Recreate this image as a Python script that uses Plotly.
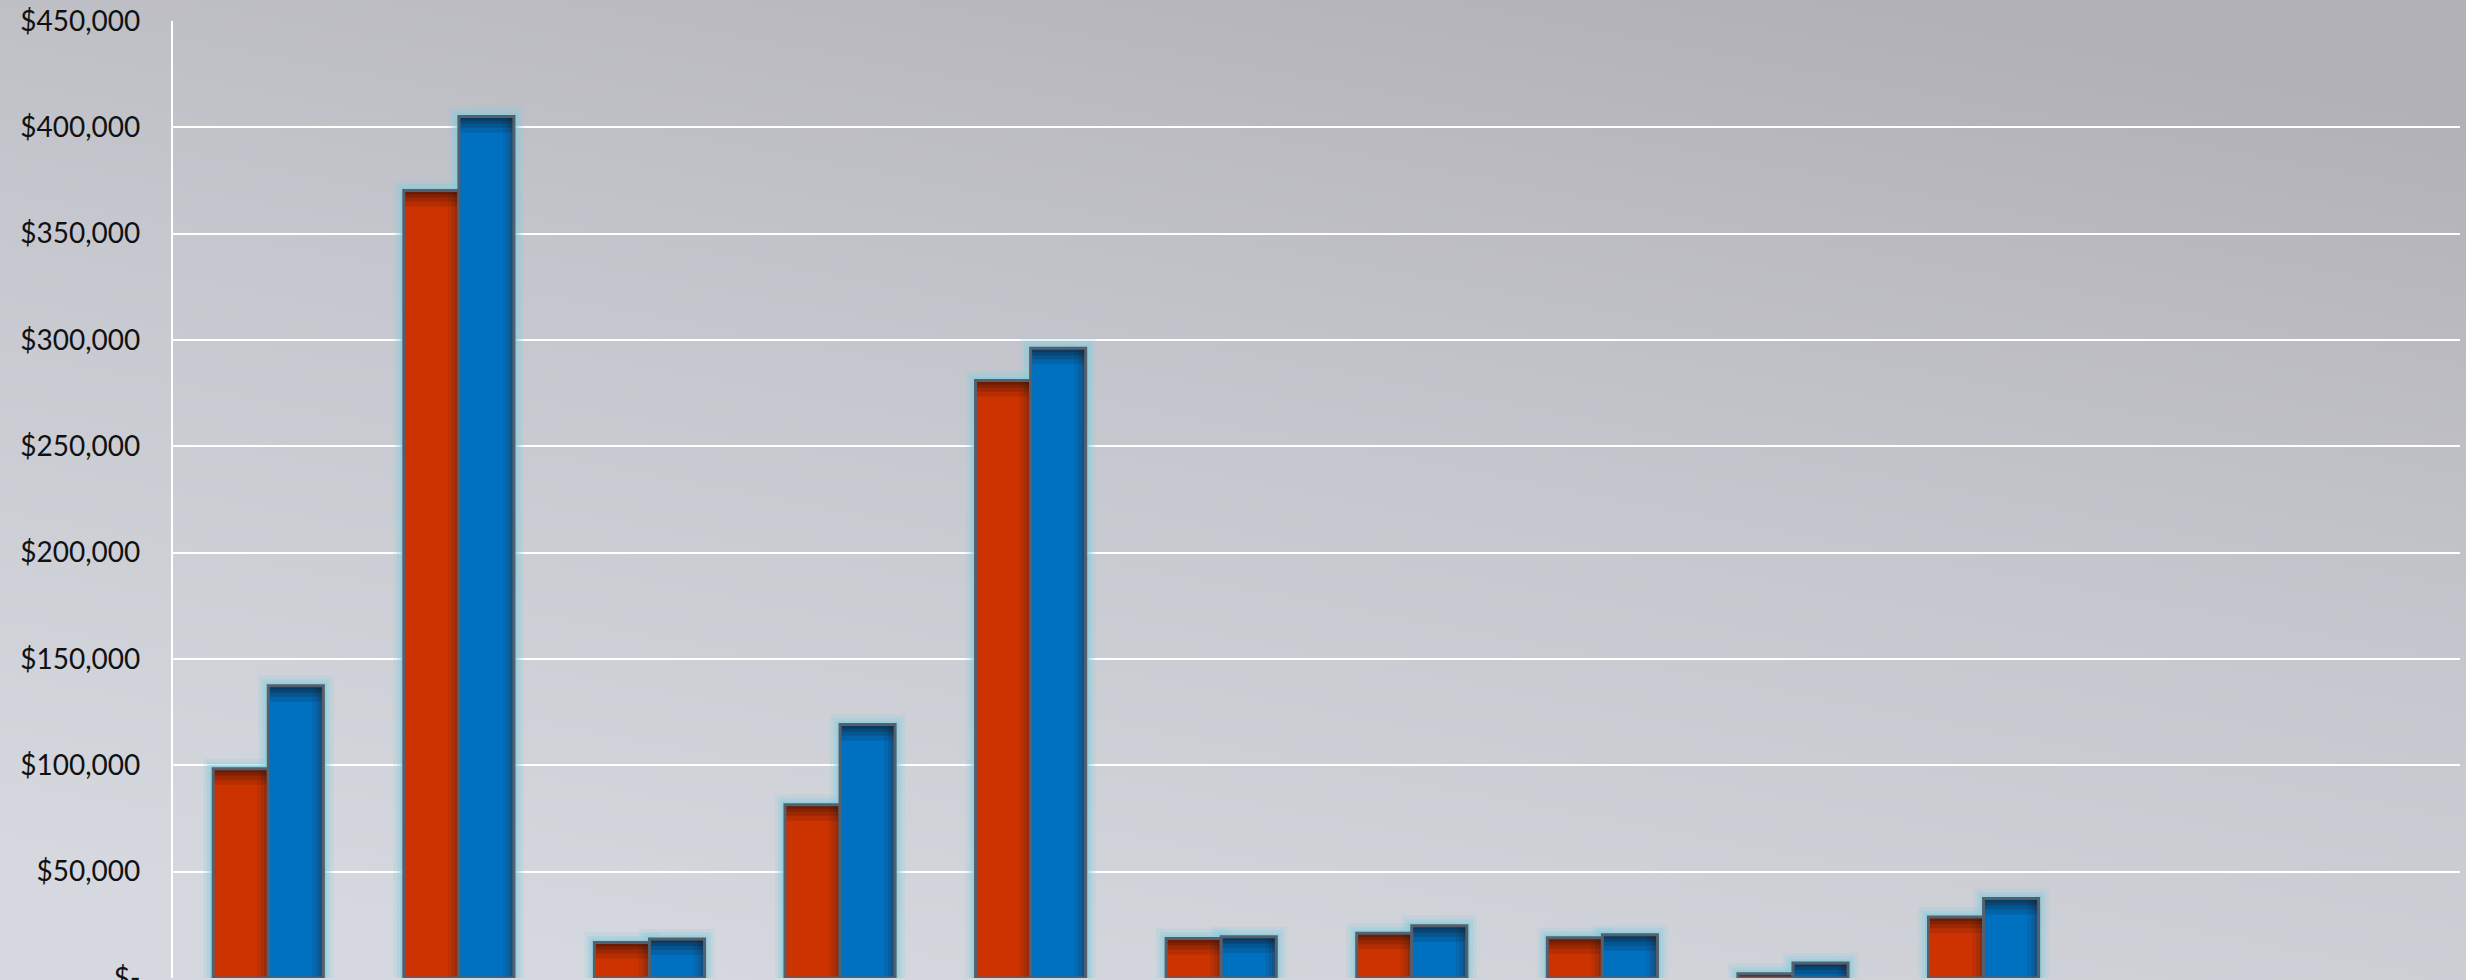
import base64
import plotly.graph_objects as go

months = ["Jan", "Feb", "Mar", "Apr", "May", "Jun", "Jul", "Aug", "Sep", "Oct", "Nov", "Dec"]
series_a = [98400, 370300, 16700, 81500, 281000, 18600, 21100, 18900, 2000, 28700, None, None]
series_b = [137400, 405100, 18300, 119200, 296100, 19400, 24600, 20300, 7000, 37400, None, None]
tick_vals = [0, 50000, 100000, 150000, 200000, 250000, 300000, 350000, 400000, 450000]
tick_text = ["$-", "$50,000", "$100,000", "$150,000", "$200,000", "$250,000",
             "$300,000", "$350,000", "$400,000", "$450,000"]

W, H = 2466, 980
ML, MR, MT, MB = 173, 6, 21, 2
PW, PH = W - ML - MR, H - MT - MB
YMAX = 450000
UNIT = YMAX / PH  # data units per pixel

svg = f'''<svg xmlns="http://www.w3.org/2000/svg" width="{W}" height="{H}" preserveAspectRatio="none" viewBox="0 0 {W} {H}">
<defs><linearGradient id="g" x1="0.26" y1="1" x2="0.74" y2="0">
<stop offset="0" stop-color="#d5d8de"/><stop offset="0.55" stop-color="#c6c7ce"/><stop offset="1" stop-color="#b2b1b7"/>
</linearGradient></defs><rect width="{W}" height="{H}" fill="url(#g)"/></svg>'''
bg_uri = "data:image/svg+xml;base64," + base64.b64encode(svg.encode()).decode()

BW = 0.289
fig = go.Figure()


def shade_top(vals, px):
    h = [None if v is None else min(v, px * UNIT) for v in vals]
    b = [None if v is None else max(0, v - px * UNIT) for v in vals]
    return h, b


series = ((series_a, -BW, "#cc3300", "Series 1"), (series_b, 0.0, "#0070c0", "Series 2"))

# outer glow
for vals, off, _, _ in series:
    for lw, a in ((20, 0.18), (13, 0.28), (7, 0.5)):
        fig.add_trace(go.Bar(x=months, y=vals, offset=off, width=BW,
                             marker=dict(color="rgba(0,0,0,0)",
                                         line=dict(color=f"rgba(128,206,224,{a})", width=lw)),
                             hoverinfo="skip", showlegend=False))

for vals, off, col, name in series:
    fig.add_trace(go.Bar(x=months, y=vals, name=name, offset=off, width=BW,
                         marker=dict(color=col, line=dict(width=0))))
    # inner shadow on right edge
    for frac, a in ((0.2, 0.1), (0.13, 0.14), (0.07, 0.2)):
        fig.add_trace(go.Bar(x=months, y=vals, offset=off + BW * (1 - frac), width=BW * frac,
                             marker=dict(color=f"rgba(50,35,35,{a})", line=dict(width=0)),
                             hoverinfo="skip", showlegend=False))
    # inner shadow on top edge
    for px, alpha in ((16, 0.12), (11, 0.15), (7, 0.18), (4, 0.2)):
        h, b = shade_top(vals, px)
        fig.add_trace(go.Bar(x=months, y=h, base=b, offset=off, width=BW,
                             marker=dict(color=f"rgba(20,10,10,{alpha})", line=dict(width=0)),
                             hoverinfo="skip", showlegend=False))
    # border
    fig.add_trace(go.Bar(x=months, y=vals, offset=off, width=BW,
                         marker=dict(color="rgba(0,0,0,0)", line=dict(color="#56606d", width=3)),
                         hoverinfo="skip", showlegend=False))

fig.update_layout(
    width=W, height=H,
    margin=dict(l=ML, r=MR, t=MT, b=MB, pad=0, autoexpand=False),
    barmode="overlay",
    showlegend=False,
    paper_bgcolor="#c8cacf",
    plot_bgcolor="rgba(0,0,0,0)",
    font=dict(family="Lato, Calibri, sans-serif", size=28, color="#111111"),
    images=[dict(source=bg_uri, xref="paper", yref="paper",
                 x=-ML / PW, y=1 + MT / PH, sizex=W / PW, sizey=H / PH,
                 xanchor="left", yanchor="top", sizing="stretch", layer="below")],
    xaxis=dict(type="category", categoryorder="array", categoryarray=months,
               range=[-0.5, 11.5], showticklabels=False, showgrid=False,
               zeroline=False, showline=False, ticks="", automargin=False),
    yaxis=dict(range=[0, YMAX], tickvals=tick_vals, ticktext=tick_text,
               showgrid=True, gridcolor="#ffffff", gridwidth=2.2,
               showline=True, linecolor="#ffffff", linewidth=2.2,
               zeroline=False, ticks="", ticklabelstandoff=25,
               ticklabeloverflow="allow", automargin=False,
               tickfont=dict(size=28, color="#111111")),
)

fig.write_html("out.html", config={"displayModeBar": False},
               post_script="document.body.style.margin='0';document.body.style.overflow='hidden';")
